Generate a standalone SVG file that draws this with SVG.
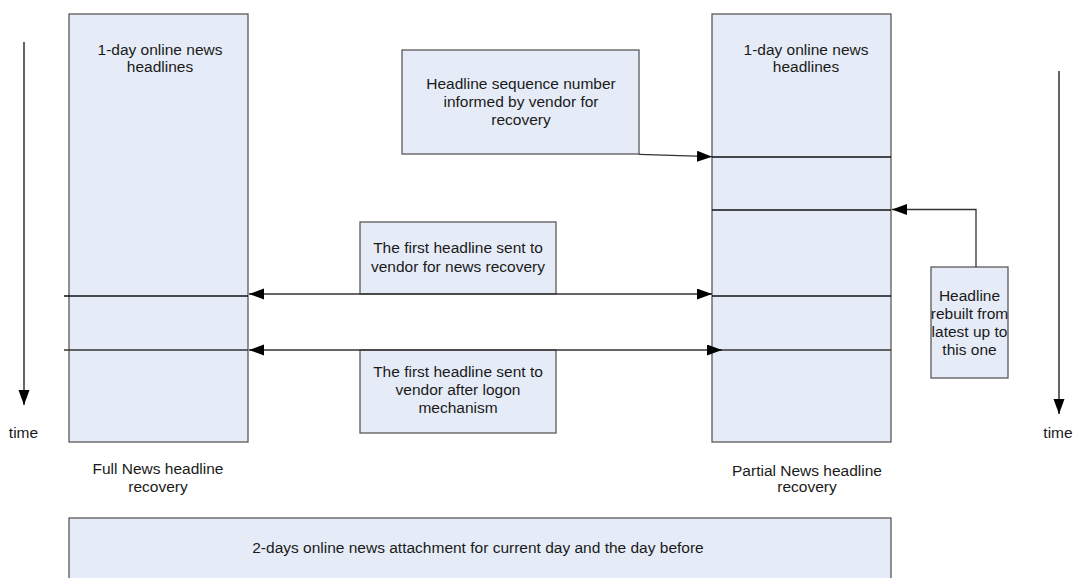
<svg xmlns="http://www.w3.org/2000/svg" width="1073" height="578" viewBox="0 0 1073 578">
<defs>
<style>
.box{fill:#E6ECF7;stroke:#5a5a5a;stroke-width:1.3}
.t{font-family:"Liberation Sans",Arial,sans-serif;font-size:15.5px;fill:#1a1a1a;text-anchor:middle}
.ln{stroke:#111;stroke-width:1.3;fill:none}
.ar{stroke:#333;stroke-width:1.3;fill:none}
</style>
<marker id="ah" markerUnits="userSpaceOnUse" markerWidth="16" markerHeight="12" refX="15" refY="5.5" orient="auto-start-reverse">
<path d="M0,0 L15,5.5 L0,11 z" fill="#000"/>
</marker>
</defs>
<rect width="1073" height="578" fill="#fff"/>
<g id="full-column">
<rect class="box" x="69" y="14" width="179" height="428"/>
<text class="t" x="160" y="55">1-day online news</text>
<text class="t" x="160" y="72">headlines</text>
</g>
<g id="partial-column">
<rect class="box" x="712" y="14" width="179" height="428"/>
<text class="t" x="806" y="55">1-day online news</text>
<text class="t" x="806" y="72">headlines</text>
</g>
<g id="seq-box">
<rect class="box" x="402" y="50" width="237" height="104"/>
<text class="t" x="521" y="89">Headline sequence number</text>
<text class="t" x="521" y="107">informed by vendor for</text>
<text class="t" x="521" y="125">recovery</text>
</g>
<g id="first-recovery">
<rect class="box" x="360" y="222" width="196" height="72"/>
<text class="t" x="458" y="253">The first headline sent to</text>
<text class="t" x="458" y="272">vendor for news recovery</text>
</g>
<g id="first-logon">
<rect class="box" x="360" y="350" width="196" height="83"/>
<text class="t" x="458" y="377">The first headline sent to</text>
<text class="t" x="458" y="395">vendor after logon</text>
<text class="t" x="458" y="413">mechanism</text>
</g>
<g id="rebuilt-box">
<rect class="box" x="931" y="267" width="77" height="111"/>
<text class="t" x="969.5" y="301">Headline</text>
<text class="t" x="969.5" y="319">rebuilt from</text>
<text class="t" x="969.5" y="337">latest up to</text>
<text class="t" x="969.5" y="355">this one</text>
</g>
<g id="attachment-box">
<rect class="box" x="69" y="518" width="822" height="80"/>
<text class="t" x="478" y="553">2-days online news attachment for current day and the day before</text>
</g>
<g id="labels">
<text class="t" x="158" y="474">Full News headline</text>
<text class="t" x="158" y="492">recovery</text>
<text class="t" x="807" y="476">Partial News headline</text>
<text class="t" x="807" y="492">recovery</text>
<text class="t" x="23.5" y="438">time</text>
<text class="t" x="1058" y="438">time</text>
</g>
<g id="connectors">
<line class="ln" x1="712" y1="157" x2="891" y2="157"/>
<line class="ln" x1="712" y1="210" x2="891" y2="210"/>
<line class="ln" x1="712" y1="296" x2="891" y2="296"/>
<line class="ar" x1="712" y1="350" x2="891" y2="350"/>
<line class="ln" x1="64" y1="296" x2="248" y2="296"/>
<line class="ar" x1="64" y1="350" x2="248" y2="350"/>
<line class="ar" x1="249" y1="294" x2="712" y2="294" marker-start="url(#ah)" marker-end="url(#ah)"/>
<line class="ar" x1="249" y1="350" x2="722" y2="350" marker-start="url(#ah)" marker-end="url(#ah)"/>
<path class="ar" d="M639,154.3 L712,156.7" marker-end="url(#ah)"/>
<path class="ar" d="M976,267 V209.5 H892" marker-end="url(#ah)"/>
<line class="ln" x1="24" y1="42" x2="24" y2="405" marker-end="url(#ah)"/>
<line class="ln" x1="1059" y1="71" x2="1059" y2="414" marker-end="url(#ah)"/>
</g>
</svg>
